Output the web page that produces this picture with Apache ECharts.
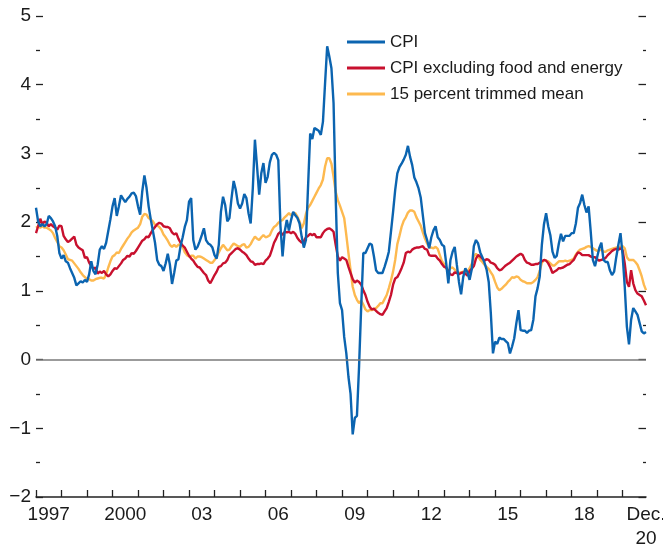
<!DOCTYPE html>
<html>
<head>
<meta charset="utf-8">
<script src="https://cdn.jsdelivr.net/npm/echarts@6/dist/echarts.min.js"></script>
<style>
html,body{margin:0;padding:0;background:#fff;}
#chart{width:663px;height:548px;}
</style>
</head>
<body>
<div id="chart"></div>
<script>
// Monthly data, January 1997 to December 2020 (percent, year over year)
const startYear = 1997;
const seriesNames = ['CPI', 'CPI excluding food and energy', '15 percent trimmed mean'];

const cpi = [
 2.21, 2.01, 1.94, 1.97, 1.94, 1.97, 2.09, 2.06, 2.01, 1.94, 1.80, 1.55,
 1.47, 1.52, 1.43, 1.41, 1.33, 1.26, 1.19, 1.08, 1.11, 1.14, 1.12, 1.16,
 1.13, 1.24, 1.43, 1.29, 1.24, 1.38, 1.60, 1.65, 1.61, 1.70, 1.87, 2.04,
 2.23, 2.35, 2.09, 2.23, 2.39, 2.34, 2.29, 2.34, 2.37, 2.42, 2.43, 2.38,
 2.23, 2.11, 2.45, 2.68, 2.50, 2.23, 2.04, 1.87, 1.70, 1.45, 1.38, 1.36,
 1.29, 1.40, 1.54, 1.38, 1.10, 1.26, 1.44, 1.46, 1.65, 1.78, 1.93, 2.03,
 2.30, 2.35, 1.74, 1.60, 1.64, 1.72, 1.81, 1.91, 1.74, 1.69, 1.67, 1.63,
 1.52, 1.47, 1.67, 2.15, 2.37, 2.25, 2.01, 2.06, 2.35, 2.60, 2.47, 2.27,
 2.20, 2.27, 2.41, 2.35, 2.13, 1.98, 2.49, 3.20, 2.81, 2.40, 2.71, 2.86,
 2.57, 2.66, 2.87, 2.98, 3.01, 2.98, 2.90, 1.95, 1.50, 1.86, 2.03, 1.88,
 2.03, 2.15, 2.10, 2.06, 1.98, 1.79, 1.63, 1.74, 2.52, 3.29, 3.21, 3.37,
 3.35, 3.33, 3.27, 3.46, 4.02, 4.56, 4.41, 4.24, 3.73, 2.37, 1.26, 0.82,
 0.72, 0.33, 0.09, -0.25, -0.50, -1.09, -0.85, -0.82, -0.10, 0.77, 1.55, 1.55,
 1.62, 1.69, 1.67, 1.50, 1.30, 1.26, 1.26, 1.26, 1.35, 1.45, 1.57, 1.86,
 2.15, 2.47, 2.71, 2.80, 2.85, 2.91, 2.98, 3.11, 2.95, 2.83, 2.65, 2.58,
 2.49, 2.36, 2.10, 1.84, 1.74, 1.62, 1.78, 1.88, 1.94, 1.78, 1.74, 1.67,
 1.65, 1.40, 1.11, 1.45, 1.57, 1.64, 1.38, 1.13, 0.95, 1.20, 1.33, 1.27,
 1.16, 1.31, 1.65, 1.74, 1.69, 1.56, 1.49, 1.41, 1.31, 1.13, 0.67, 0.09,
 0.26, 0.23, 0.32, 0.30, 0.30, 0.27, 0.24, 0.09, 0.19, 0.31, 0.53, 0.72,
 0.43, 0.42, 0.42, 0.39, 0.42, 0.43, 0.58, 0.92, 1.04, 1.21, 1.67, 1.97,
 2.13, 1.94, 1.81, 1.57, 1.48, 1.51, 1.69, 1.83, 1.72, 1.80, 1.80, 1.80,
 1.84, 1.84, 1.98, 2.21, 2.28, 2.40, 2.25, 2.14, 2.23, 1.86, 1.45, 1.36,
 1.49, 1.62, 1.70, 1.45, 1.42, 1.42, 1.30, 1.23, 1.28, 1.49, 1.67, 1.84,
 1.52, 1.06, 0.48, 0.22, 0.58, 0.75, 0.70, 0.65, 0.53, 0.41, 0.38, 0.40
];

const coreCpi = [
 1.84, 1.94, 2.05, 1.97, 2.01, 1.99, 1.94, 1.97, 1.94, 1.92, 1.89, 1.95,
 1.94, 1.80, 1.75, 1.71, 1.73, 1.76, 1.79, 1.67, 1.63, 1.61, 1.59, 1.48,
 1.49, 1.41, 1.36, 1.32, 1.34, 1.25, 1.28, 1.26, 1.29, 1.24, 1.21, 1.24,
 1.29, 1.33, 1.32, 1.36, 1.40, 1.45, 1.47, 1.51, 1.50, 1.55, 1.54, 1.58,
 1.63, 1.68, 1.73, 1.75, 1.79, 1.78, 1.84, 1.89, 1.93, 1.97, 1.99, 1.98,
 1.94, 1.93, 1.93, 1.91, 1.85, 1.82, 1.84, 1.76, 1.70, 1.66, 1.63, 1.57,
 1.51, 1.47, 1.44, 1.39, 1.35, 1.34, 1.30, 1.26, 1.23, 1.15, 1.11, 1.17,
 1.23, 1.28, 1.35, 1.36, 1.40, 1.41, 1.45, 1.52, 1.55, 1.58, 1.61, 1.62,
 1.60, 1.57, 1.55, 1.52, 1.47, 1.43, 1.42, 1.38, 1.39, 1.39, 1.40, 1.39,
 1.44, 1.47, 1.51, 1.60, 1.70, 1.76, 1.83, 1.86, 1.81, 1.86, 1.85, 1.86,
 1.84, 1.86, 1.83, 1.77, 1.73, 1.70, 1.72, 1.78, 1.80, 1.83, 1.81, 1.83,
 1.78, 1.78, 1.78, 1.84, 1.88, 1.90, 1.91, 1.89, 1.86, 1.67, 1.50, 1.44,
 1.49, 1.47, 1.45, 1.35, 1.26, 1.17, 1.12, 1.15, 1.13, 1.09, 1.01, 0.94,
 0.84, 0.77, 0.73, 0.74, 0.71, 0.68, 0.66, 0.65, 0.70, 0.75, 0.84, 0.94,
 1.09, 1.18, 1.20, 1.26, 1.33, 1.41, 1.55, 1.57, 1.56, 1.60, 1.62, 1.63,
 1.63, 1.64, 1.65, 1.61, 1.60, 1.52, 1.51, 1.51, 1.51, 1.47, 1.44, 1.39,
 1.35, 1.34, 1.28, 1.24, 1.23, 1.27, 1.26, 1.24, 1.26, 1.27, 1.25, 1.22,
 1.29, 1.32, 1.36, 1.47, 1.52, 1.50, 1.47, 1.44, 1.46, 1.45, 1.41, 1.40,
 1.38, 1.33, 1.30, 1.31, 1.34, 1.37, 1.39, 1.41, 1.44, 1.47, 1.50, 1.52,
 1.54, 1.52, 1.45, 1.41, 1.40, 1.38, 1.38, 1.39, 1.39, 1.41, 1.43, 1.45,
 1.44, 1.40, 1.34, 1.26, 1.28, 1.30, 1.33, 1.33, 1.34, 1.36, 1.38, 1.39,
 1.42, 1.45, 1.51, 1.56, 1.55, 1.52, 1.52, 1.52, 1.52, 1.50, 1.49, 1.49,
 1.46, 1.44, 1.45, 1.46, 1.48, 1.52, 1.55, 1.58, 1.60, 1.61, 1.60, 1.62,
 1.59, 1.40, 1.13, 1.06, 1.30, 1.11, 1.01, 0.96, 0.94, 0.92, 0.86, 0.79
];

const trimmedMean = [
 1.92, 1.94, 1.92, 1.94, 1.92, 1.92, 1.90, 1.88, 1.84, 1.77, 1.71, 1.65,
 1.63, 1.59, 1.53, 1.46, 1.45, 1.44, 1.40, 1.36, 1.32, 1.27, 1.23, 1.20,
 1.17, 1.17, 1.15, 1.15, 1.17, 1.18, 1.19, 1.19, 1.18, 1.24, 1.34, 1.43,
 1.50, 1.52, 1.56, 1.55, 1.61, 1.66, 1.71, 1.76, 1.80, 1.85, 1.88, 1.90,
 1.92, 1.97, 2.08, 2.12, 2.11, 2.06, 2.04, 2.01, 1.96, 1.95, 1.93, 1.89,
 1.82, 1.78, 1.73, 1.67, 1.64, 1.67, 1.64, 1.67, 1.67, 1.64, 1.56, 1.52,
 1.50, 1.51, 1.51, 1.47, 1.50, 1.50, 1.49, 1.47, 1.45, 1.43, 1.41, 1.41,
 1.45, 1.49, 1.56, 1.62, 1.67, 1.63, 1.59, 1.60, 1.65, 1.69, 1.67, 1.65,
 1.64, 1.67, 1.68, 1.63, 1.64, 1.68, 1.74, 1.79, 1.76, 1.74, 1.78, 1.81,
 1.78, 1.79, 1.81, 1.88, 1.93, 1.95, 1.99, 2.02, 2.03, 2.07, 2.10, 2.13,
 2.10, 2.13, 2.13, 2.08, 2.01, 1.91, 1.98, 2.12, 2.21, 2.25, 2.31, 2.37,
 2.43, 2.49, 2.54, 2.62, 2.81, 2.93, 2.93, 2.85, 2.66, 2.44, 2.32, 2.24,
 2.15, 2.06, 1.81, 1.55, 1.30, 1.06, 0.94, 0.87, 0.82, 0.86, 0.80, 0.73,
 0.70, 0.72, 0.72, 0.73, 0.75, 0.78, 0.82, 0.82, 0.88, 0.94, 1.04, 1.15,
 1.28, 1.45, 1.68, 1.80, 1.93, 2.02, 2.07, 2.14, 2.17, 2.17, 2.15, 2.07,
 2.01, 1.95, 1.85, 1.76, 1.69, 1.63, 1.63, 1.62, 1.64, 1.61, 1.52, 1.43,
 1.39, 1.33, 1.29, 1.33, 1.34, 1.31, 1.28, 1.26, 1.27, 1.28, 1.26, 1.28,
 1.33, 1.39, 1.50, 1.54, 1.51, 1.45, 1.42, 1.38, 1.35, 1.32, 1.27, 1.22,
 1.13, 1.05, 1.01, 1.03, 1.06, 1.09, 1.13, 1.16, 1.20, 1.19, 1.21, 1.20,
 1.16, 1.14, 1.13, 1.11, 1.11, 1.11, 1.13, 1.16, 1.20, 1.29, 1.41, 1.45,
 1.44, 1.43, 1.40, 1.37, 1.37, 1.40, 1.43, 1.43, 1.43, 1.44, 1.43, 1.44,
 1.45, 1.47, 1.53, 1.57, 1.60, 1.61, 1.62, 1.64, 1.65, 1.64, 1.62, 1.60,
 1.58, 1.59, 1.60, 1.57, 1.57, 1.59, 1.60, 1.61, 1.62, 1.63, 1.64, 1.64,
 1.65, 1.62, 1.49, 1.45, 1.45, 1.45, 1.42, 1.38, 1.30, 1.21, 1.09, 1.01
];

// Axis ticks and labels
const yearTicks = [1997,1998,1999,2000,2001,2002,2003,2004,2005,2006,2007,2008,
                   2009,2010,2011,2012,2013,2014,2015,2016,2017,2018,2019,2020];
const lastMonth = startYear + (cpi.length - 1) / 12;
const xLabelValues = [1997.5, 2000.5, 2003.5, 2006.5, 2009.5, 2012.5, 2015.5, 2018.5, lastMonth];
const xLabelTexts = ['1997', '2000', '03', '06', '09', '12', '15', '18', 'Dec.\n20'];
const yMin = -2, yMax = 5, yStep = 1;

const toPairs = arr => arr.map((v, i) => [startYear + i / 12, v]);

const FONT = "'Liberation Sans', Arial, sans-serif";
const TXT = '#1a1a1a';
const BLUE = '#0b64b0', RED = '#c8102e', ORANGE = '#fdb94f';

const chart = echarts.init(document.getElementById('chart'), null, {renderer: 'canvas'});

const yAxisCommon = {
  type: 'value', min: yMin, max: yMax, interval: yStep,
  axisLine: {show: false},
  splitLine: {show: false},
  minorSplitLine: {show: false}
};

chart.setOption({
  animation: false,
  backgroundColor: '#ffffff',
  grid: {left: 36, right: 17, top: 16, bottom: 51, containLabel: false, outerBoundsMode: 'none'},
  legend: {
    orient: 'vertical', left: 347, top: 33, padding: 0,
    icon: 'rect', itemWidth: 38, itemHeight: 3, itemGap: 8,
    data: seriesNames,
    textStyle: {fontFamily: FONT, fontSize: 17, lineHeight: 18, color: TXT}
  },
  xAxis: {
    type: 'value', min: startYear, max: lastMonth,
    axisLine: {onZero: false, lineStyle: {color: '#222', width: 1.5}},
    axisTick: {inside: true, length: 7, customValues: yearTicks, lineStyle: {color: '#222', width: 1.3}},
    axisLabel: {
      customValues: xLabelValues, showMaxLabel: true, showMinLabel: true,
      margin: 6, fontFamily: FONT, fontSize: 19, lineHeight: 24, color: TXT,
      formatter: function (v) {
        for (let i = 0; i < xLabelValues.length; i++) {
          if (Math.abs(xLabelValues[i] - v) < 0.01) return xLabelTexts[i];
        }
        return '';
      }
    },
    splitLine: {show: false}
  },
  yAxis: [
    Object.assign({}, yAxisCommon, {
      position: 'left',
      axisTick: {inside: true, length: 7, lineStyle: {color: '#222', width: 1.3}},
      minorTick: {show: true, splitNumber: 2, length: 4, lineStyle: {color: '#222', width: 1.3}},
      axisLabel: {
        margin: 5, fontFamily: FONT, fontSize: 19, color: TXT,
        formatter: v => (v < 0 ? '\u2212' + Math.abs(v) : String(v))
      }
    }),
    Object.assign({}, yAxisCommon, {
      position: 'right',
      axisTick: {inside: true, length: 7.5, lineStyle: {color: '#222', width: 1.3}},
      minorTick: {show: true, splitNumber: 2, length: 3, lineStyle: {color: '#222', width: 1.3}},
      axisLabel: {show: false}
    })
  ],
  series: [
    {
      name: seriesNames[2], type: 'line', data: toPairs(trimmedMean),
      symbol: 'none', itemStyle: {color: ORANGE}, lineStyle: {color: ORANGE, width: 2.4},
      markLine: {
        silent: true, symbol: 'none', label: {show: false},
        lineStyle: {color: '#7a7a7a', width: 1.6, type: 'solid'},
        data: [{yAxis: 0}]
      }
    },
    {
      name: seriesNames[1], type: 'line', data: toPairs(coreCpi),
      symbol: 'none', itemStyle: {color: RED}, lineStyle: {color: RED, width: 2.4}
    },
    {
      name: seriesNames[0], type: 'line', data: toPairs(cpi),
      symbol: 'none', itemStyle: {color: BLUE}, lineStyle: {color: BLUE, width: 2.4}
    }
  ]
});
</script>
</body>
</html>
